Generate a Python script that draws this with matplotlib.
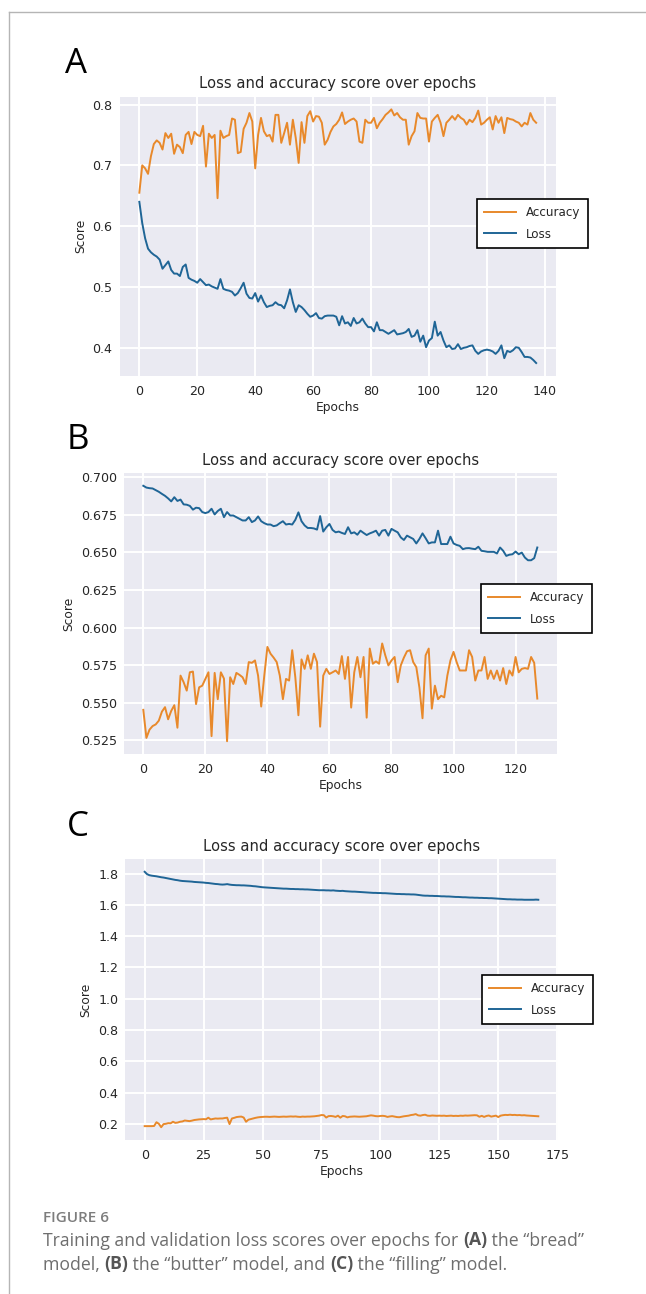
import matplotlib
matplotlib.use("Agg")
import matplotlib.pyplot as plt
from matplotlib.ticker import MultipleLocator
from matplotlib.lines import Line2D

# ---------------- data ----------------
acc_A = [0.655, 0.700, 0.695, 0.686, 0.715, 0.735, 0.741, 0.737, 0.726, 0.753,
         0.745, 0.752, 0.719, 0.734, 0.730, 0.720, 0.750, 0.755, 0.735, 0.755,
         0.750, 0.748, 0.765, 0.698, 0.752, 0.745, 0.750, 0.646, 0.757, 0.745,
         0.748, 0.750, 0.777, 0.775, 0.720, 0.722, 0.760, 0.770, 0.786, 0.772,
         0.695, 0.750, 0.778, 0.756, 0.748, 0.750, 0.739, 0.783, 0.783, 0.737,
         0.753, 0.770, 0.734, 0.775, 0.745, 0.704, 0.771, 0.737, 0.781, 0.789,
         0.772, 0.781, 0.780, 0.770, 0.734, 0.742, 0.755, 0.764, 0.768, 0.775,
         0.787, 0.768, 0.772, 0.775, 0.777, 0.772, 0.739, 0.737, 0.775, 0.770,
         0.770, 0.778, 0.761, 0.770, 0.776, 0.783, 0.787, 0.792, 0.782, 0.786,
         0.779, 0.775, 0.775, 0.734, 0.748, 0.756, 0.786, 0.778, 0.777, 0.777,
         0.739, 0.772, 0.778, 0.783, 0.770, 0.748, 0.770, 0.775, 0.781, 0.775,
         0.783, 0.778, 0.775, 0.767, 0.775, 0.771, 0.778, 0.790, 0.767, 0.770,
         0.775, 0.779, 0.759, 0.781, 0.770, 0.779, 0.753, 0.778, 0.776, 0.775,
         0.772, 0.770, 0.764, 0.770, 0.767, 0.786, 0.775, 0.770]
loss_A = [0.640, 0.605, 0.580, 0.563, 0.557, 0.553, 0.550, 0.545, 0.530, 0.536,
          0.542, 0.528, 0.522, 0.522, 0.518, 0.533, 0.537, 0.515, 0.512, 0.510,
          0.507, 0.513, 0.508, 0.503, 0.504, 0.501, 0.499, 0.497, 0.513, 0.497,
          0.495, 0.494, 0.492, 0.486, 0.490, 0.498, 0.507, 0.489, 0.482, 0.481,
          0.490, 0.476, 0.486, 0.475, 0.467, 0.469, 0.470, 0.475, 0.471, 0.470,
          0.465, 0.478, 0.496, 0.475, 0.459, 0.470, 0.467, 0.462, 0.456, 0.451,
          0.453, 0.457, 0.449, 0.448, 0.452, 0.453, 0.453, 0.453, 0.451, 0.437,
          0.452, 0.440, 0.442, 0.436, 0.449, 0.440, 0.442, 0.448, 0.440, 0.434,
          0.434, 0.427, 0.442, 0.429, 0.429, 0.426, 0.423, 0.426, 0.429, 0.422,
          0.423, 0.424, 0.426, 0.431, 0.418, 0.420, 0.429, 0.410, 0.420, 0.401,
          0.412, 0.416, 0.443, 0.420, 0.426, 0.412, 0.401, 0.404, 0.398, 0.399,
          0.406, 0.398, 0.400, 0.401, 0.403, 0.404, 0.395, 0.390, 0.394, 0.396,
          0.397, 0.396, 0.394, 0.390, 0.395, 0.404, 0.383, 0.395, 0.393, 0.396,
          0.401, 0.400, 0.393, 0.385, 0.385, 0.384, 0.380, 0.375]

acc_B = [0.5452, 0.5265, 0.5320, 0.5344, 0.5355, 0.5380, 0.5440, 0.5470, 0.5389, 0.5445,
         0.5483, 0.5333, 0.5680, 0.5636, 0.5580, 0.5702, 0.5707, 0.5490, 0.5602, 0.5613,
         0.5658, 0.5702, 0.5277, 0.5698, 0.5523, 0.5702, 0.5660, 0.5243, 0.5669, 0.5624,
         0.5698, 0.5685, 0.5669, 0.5624, 0.5770, 0.5765, 0.5781, 0.5680, 0.5474, 0.5680,
         0.5871, 0.5826, 0.5800, 0.5770, 0.5680, 0.5523, 0.5658, 0.5647, 0.5849, 0.5669,
         0.5416, 0.5788, 0.5725, 0.5815, 0.5725, 0.5826, 0.5770, 0.5340, 0.5680, 0.5725,
         0.5691, 0.5702, 0.5714, 0.5691, 0.5810, 0.5658, 0.5804, 0.5467, 0.5702, 0.5804,
         0.5669, 0.5804, 0.5400, 0.5860, 0.5759, 0.5775, 0.5759, 0.5894, 0.5815, 0.5748,
         0.5781, 0.5804, 0.5636, 0.5748, 0.5800, 0.5842, 0.5849, 0.5770, 0.5736, 0.5600,
         0.5396, 0.5815, 0.5860, 0.5460, 0.5613, 0.5523, 0.5546, 0.5535, 0.5680, 0.5781,
         0.5838, 0.5770, 0.5714, 0.5714, 0.5714, 0.5849, 0.5804, 0.5647, 0.5714, 0.5714,
         0.5804, 0.5658, 0.5714, 0.5658, 0.5714, 0.5647, 0.5730, 0.5624, 0.5714, 0.5680,
         0.5804, 0.5702, 0.5725, 0.5730, 0.5725, 0.5804, 0.5765, 0.5527]
loss_B = [0.6944, 0.6932, 0.6928, 0.6926, 0.6915, 0.6904, 0.6890, 0.6877, 0.6860, 0.6840,
          0.6868, 0.6843, 0.6852, 0.6820, 0.6818, 0.6810, 0.6785, 0.6798, 0.6795, 0.6769,
          0.6762, 0.6769, 0.6791, 0.6753, 0.6776, 0.6791, 0.6735, 0.6769, 0.6746, 0.6746,
          0.6735, 0.6724, 0.6713, 0.6713, 0.6735, 0.6702, 0.6713, 0.6740, 0.6708, 0.6695,
          0.6686, 0.6686, 0.6675, 0.6680, 0.6695, 0.6708, 0.6686, 0.6690, 0.6686, 0.6717,
          0.6767, 0.6708, 0.6680, 0.6663, 0.6663, 0.6660, 0.6652, 0.6742, 0.6639, 0.6668,
          0.6690, 0.6650, 0.6634, 0.6639, 0.6630, 0.6623, 0.6668, 0.6627, 0.6634, 0.6618,
          0.6645, 0.6630, 0.6616, 0.6627, 0.6635, 0.6645, 0.6612, 0.6645, 0.6650, 0.6612,
          0.6657, 0.6645, 0.6634, 0.6600, 0.6583, 0.6612, 0.6601, 0.6590, 0.6560, 0.6590,
          0.6627, 0.6595, 0.6560, 0.6567, 0.6567, 0.6645, 0.6556, 0.6556, 0.6556, 0.6605,
          0.6560, 0.6550, 0.6544, 0.6522, 0.6528, 0.6529, 0.6525, 0.6522, 0.6538, 0.6511,
          0.6508, 0.6504, 0.6504, 0.6504, 0.6493, 0.6533, 0.6511, 0.6477, 0.6485, 0.6488,
          0.6506, 0.6488, 0.6499, 0.6466, 0.6448, 0.6448, 0.6462, 0.6533]

acc_C = [0.185, 0.185, 0.185, 0.185, 0.186, 0.210, 0.200, 0.178, 0.198, 0.200,
         0.204, 0.203, 0.213, 0.206, 0.208, 0.213, 0.215, 0.221, 0.219, 0.217,
         0.220, 0.224, 0.226, 0.228, 0.229, 0.230, 0.229, 0.239, 0.228, 0.231,
         0.234, 0.233, 0.234, 0.234, 0.237, 0.239, 0.198, 0.234, 0.238, 0.243,
         0.245, 0.246, 0.240, 0.213, 0.226, 0.230, 0.234, 0.238, 0.241, 0.243,
         0.244, 0.245, 0.245, 0.244, 0.245, 0.246, 0.245, 0.244, 0.245, 0.246,
         0.245, 0.246, 0.247, 0.246, 0.247, 0.245, 0.244, 0.246, 0.245, 0.246,
         0.246, 0.247, 0.248, 0.250, 0.252, 0.256, 0.255, 0.240, 0.249, 0.250,
         0.248, 0.244, 0.252, 0.239, 0.250, 0.248, 0.241, 0.245, 0.246, 0.247,
         0.246, 0.245, 0.246, 0.247, 0.248, 0.251, 0.254, 0.252, 0.249, 0.248,
         0.250, 0.251, 0.249, 0.244, 0.247, 0.249, 0.246, 0.243, 0.242, 0.245,
         0.248, 0.250, 0.252, 0.256, 0.258, 0.262, 0.254, 0.252, 0.256, 0.258,
         0.252, 0.251, 0.253, 0.252, 0.251, 0.252, 0.251, 0.252, 0.250, 0.251,
         0.252, 0.250, 0.251, 0.250, 0.252, 0.251, 0.253, 0.252, 0.253, 0.254,
         0.255, 0.254, 0.245, 0.251, 0.244, 0.250, 0.253, 0.246, 0.249, 0.252,
         0.243, 0.252, 0.255, 0.257, 0.256, 0.258, 0.256, 0.257, 0.255, 0.256,
         0.254, 0.255, 0.253, 0.252, 0.251, 0.250, 0.249, 0.248]
loss_C = [1.812, 1.797, 1.790, 1.787, 1.785, 1.783, 1.780, 1.777, 1.775, 1.772,
          1.769, 1.766, 1.763, 1.760, 1.758, 1.755, 1.753, 1.752, 1.751, 1.750,
          1.749, 1.747, 1.746, 1.745, 1.744, 1.743, 1.741, 1.740, 1.738, 1.736,
          1.734, 1.733, 1.731, 1.730, 1.731, 1.733, 1.730, 1.728, 1.727, 1.726,
          1.726, 1.725, 1.725, 1.724, 1.723, 1.722, 1.720, 1.719, 1.717, 1.715,
          1.713, 1.712, 1.711, 1.710, 1.709, 1.708, 1.707, 1.706, 1.705, 1.704,
          1.704, 1.703, 1.702, 1.702, 1.701, 1.701, 1.700, 1.700, 1.699, 1.699,
          1.698, 1.697, 1.696, 1.695, 1.694, 1.694, 1.694, 1.693, 1.693, 1.692,
          1.693, 1.691, 1.690, 1.689, 1.690, 1.688, 1.687, 1.686, 1.685, 1.685,
          1.684, 1.683, 1.682, 1.681, 1.680, 1.679, 1.678, 1.677, 1.677, 1.676,
          1.676, 1.675, 1.675, 1.674, 1.673, 1.672, 1.671, 1.670, 1.670, 1.669,
          1.669, 1.668, 1.668, 1.667, 1.667, 1.666, 1.664, 1.662, 1.660, 1.659,
          1.659, 1.658, 1.658, 1.657, 1.657, 1.656, 1.655, 1.655, 1.654, 1.654,
          1.653, 1.652, 1.651, 1.651, 1.650, 1.649, 1.649, 1.648, 1.647, 1.647,
          1.646, 1.646, 1.645, 1.645, 1.644, 1.644, 1.643, 1.643, 1.642, 1.641,
          1.640, 1.639, 1.638, 1.637, 1.636, 1.636, 1.635, 1.635, 1.634, 1.634,
          1.634, 1.633, 1.633, 1.633, 1.633, 1.633, 1.634, 1.633]

panel_letters = ["A", "B", "C"]
title_text = "Loss and accuracy score over epochs"
series_labels = ["Accuracy", "Loss"]
x_label = "Epochs"
y_label = "Score"
caption_head = "FIGURE 6"
caption_lines = [
    [("Training and validation loss scores over epochs for ", False), ("(A)", True),
     (" the \u201cbread\u201d", False)],
    [("model, ", False), ("(B)", True), (" the \u201cbutter\u201d model, and ", False),
     ("(C)", True), (" the \u201cfilling\u201d model.", False)],
]

# ---------------- style ----------------
W, H = 646, 1294
DPI = 100
plt.rcParams.update({
    "font.family": "DejaVu Sans",
    "axes.facecolor": "#EAEAF2",
    "axes.edgecolor": "white",
    "axes.grid": True,
    "grid.color": "white",
    "grid.linewidth": 1.4,
    "axes.axisbelow": True,
    "xtick.major.size": 0,
    "ytick.major.size": 0,
    "xtick.major.pad": 6.5,
    "ytick.major.pad": 5,
    "xtick.color": "#262626",
    "ytick.color": "#262626",
    "text.color": "#262626",
    "axes.labelcolor": "#262626",
})
ORANGE = "#e8892b"
BLUE = "#1f6596"

fig = plt.figure(figsize=(W / DPI, H / DPI), dpi=DPI)

def px_rect(left, right, top, bottom):
    return [left / W, 1 - bottom / H, (right - left) / W, (bottom - top) / H]

panels = [
    dict(acc=acc_A, loss=loss_A, rect=px_rect(119.5, 556, 96.7, 375.7), xstep=20, ystep=0.1,
         leg=((477 - 119.5) / 436.5, (375.7 - 199) / 279), letter=(65, 73)),
    dict(acc=acc_B, loss=loss_B, rect=px_rect(123.6, 557, 473, 754), xstep=20, ystep=0.025,
         leg=((481 - 123.6) / 433.4, (754 - 584) / 281), letter=(67, 449)),
    dict(acc=acc_C, loss=loss_C, rect=px_rect(125, 558, 859, 1140), xstep=25, ystep=0.2,
         leg=((482 - 125) / 433, (1140 - 975) / 281), letter=(67, 836)),
]

for letter, p in zip(panel_letters, panels):
    ax = fig.add_axes(p["rect"])
    for s in ax.spines.values():
        s.set_visible(False)
    ax.plot(range(len(p["acc"])), p["acc"], color=ORANGE, lw=1.4, label=series_labels[0])
    ax.plot(range(len(p["loss"])), p["loss"], color=BLUE, lw=1.4, label=series_labels[1])
    ax.xaxis.set_major_locator(MultipleLocator(p["xstep"]))
    ax.yaxis.set_major_locator(MultipleLocator(p["ystep"]))
    ax.tick_params(labelsize=9.1)
    ax.set_title(title_text, fontsize=10.6, pad=6)
    ax.set_xlabel(x_label, fontsize=8.8, labelpad=2)
    ax.set_ylabel(y_label, fontsize=8.8, labelpad=4)
    leg = ax.legend(loc="upper left", bbox_to_anchor=p["leg"], borderaxespad=0,
                    fontsize=8.6, frameon=True, fancybox=False, framealpha=1,
                    facecolor="white", edgecolor="black", borderpad=0.6,
                    labelspacing=0.7, handlelength=2.7, handletextpad=0.8)
    leg.get_frame().set_linewidth(1.2)
    lx, ly = p["letter"]
    fig.text(lx / W, 1 - ly / H, letter, fontsize=25, family="Open Sans",
             color="black", ha="left", va="baseline")

# frame lines
fig.add_artist(Line2D([9 / W, 9 / W], [0, 1 - 11.5 / H], transform=fig.transFigure,
                      color="#b5b5b5", lw=1.0))
fig.add_artist(Line2D([9 / W, 1], [1 - 11.5 / H, 1 - 11.5 / H], transform=fig.transFigure,
                      color="#b5b5b5", lw=1.0))

# caption
fig.text(43 / W, 1 - 1221.7 / H, caption_head, fontsize=11, family="Open Sans",
         weight="semibold", color="#7d7d7d", ha="left", va="baseline")

renderer = fig.canvas.get_renderer()

def text_width(s, **kw):
    t1 = fig.text(0, 0, s + "x", **kw)
    t2 = fig.text(0, 0, "x", **kw)
    w = t1.get_window_extent(renderer).width - t2.get_window_extent(renderer).width
    t1.remove()
    t2.remove()
    return w

baselines = [1245.5, 1269.5]
for line, base in zip(caption_lines, baselines):
    x = 43.0
    for piece, bold in line:
        kw = dict(fontsize=12.7, family="Open Sans",
                  weight="bold" if bold else "normal",
                  color="#555555" if bold else "#6e6e6e")
        fig.text(x / W, 1 - base / H, piece, ha="left", va="baseline", **kw)
        x += text_width(piece, **kw)

fig.savefig("out.png", dpi=DPI)
